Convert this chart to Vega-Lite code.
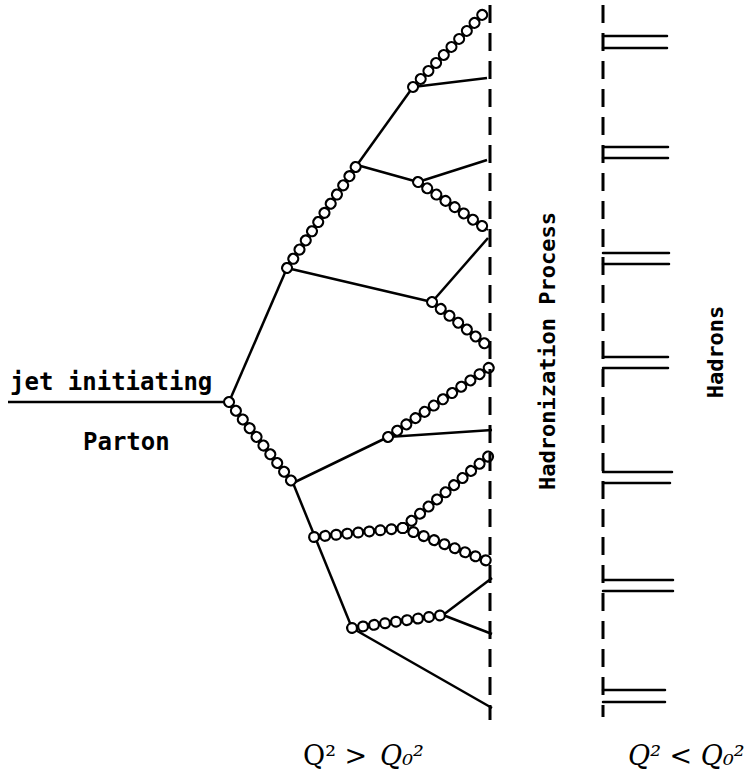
{
  "$schema": "https://vega.github.io/schema/vega-lite/v6.json",
  "autosize": {"type": "fit", "contains": "padding"},
  "width": 746,
  "height": 782,
  "padding": 0,
  "background": "white",
  "config": {"view": {"stroke": null}},
  "datasets": {
    "quarks": [
      {"x": 8, "y": 402, "x2": 229, "y2": 402},
      {"x": 229, "y": 402, "x2": 287, "y2": 268},
      {"x": 287, "y": 268, "x2": 432, "y2": 302},
      {"x": 357, "y": 165, "x2": 413, "y2": 87},
      {"x": 357, "y": 165, "x2": 418, "y2": 182},
      {"x": 413, "y": 87, "x2": 487, "y2": 78},
      {"x": 418, "y": 182, "x2": 487, "y2": 160},
      {"x": 432, "y": 302, "x2": 488, "y2": 238},
      {"x": 293, "y": 483, "x2": 388, "y2": 437},
      {"x": 388, "y": 437, "x2": 492, "y2": 430},
      {"x": 293, "y": 483, "x2": 352, "y2": 628},
      {"x": 443, "y": 615, "x2": 492, "y2": 578},
      {"x": 443, "y": 615, "x2": 492, "y2": 634},
      {"x": 352, "y": 628, "x2": 492, "y2": 708}
    ],
    "gluons": [
      {"x": 287, "y": 268, "x2": 357, "y2": 165},
      {"x": 413, "y": 87, "x2": 485, "y2": 12},
      {"x": 418, "y": 182, "x2": 488, "y2": 230},
      {"x": 432, "y": 302, "x2": 489, "y2": 347},
      {"x": 229, "y": 402, "x2": 293, "y2": 483},
      {"x": 388, "y": 437, "x2": 490, "y2": 367},
      {"x": 314, "y": 537, "x2": 403, "y2": 528},
      {"x": 403, "y": 528, "x2": 490, "y2": 455},
      {"x": 403, "y": 528, "x2": 490, "y2": 562},
      {"x": 352, "y": 628, "x2": 443, "y2": 615}
    ],
    "dashed": [
      {"x": 490, "y": 5, "x2": 490, "y2": 720},
      {"x": 603, "y": 5, "x2": 603, "y2": 717}
    ],
    "hadrons": [
      {"x": 603, "y": 36, "x2": 667, "y2": 36},
      {"x": 603, "y": 48, "x2": 667, "y2": 48},
      {"x": 603, "y": 147, "x2": 668, "y2": 147},
      {"x": 603, "y": 158, "x2": 668, "y2": 158},
      {"x": 603, "y": 253, "x2": 669, "y2": 253},
      {"x": 603, "y": 264, "x2": 669, "y2": 264},
      {"x": 603, "y": 357, "x2": 668, "y2": 357},
      {"x": 603, "y": 368, "x2": 668, "y2": 368},
      {"x": 603, "y": 472, "x2": 672, "y2": 472},
      {"x": 603, "y": 483, "x2": 670, "y2": 483},
      {"x": 603, "y": 580, "x2": 673, "y2": 580},
      {"x": 603, "y": 591, "x2": 673, "y2": 591},
      {"x": 603, "y": 690, "x2": 665, "y2": 690},
      {"x": 603, "y": 702, "x2": 665, "y2": 702}
    ],
    "labelsH": [
      {"x": 10, "y": 383, "text": "jet initiating"},
      {"x": 83, "y": 443, "text": "Parton"}
    ],
    "labelsV": [
      {"x": 548, "y": 351, "text": "Hadronization Process"},
      {"x": 716, "y": 352, "text": "Hadrons"}
    ],
    "labelsQ": [
      {"x": 303, "y": 765, "text": "Q² >"}
    ],
    "labelsQi": [
      {"x": 380, "y": 765, "text": "Q₀²"},
      {"x": 628, "y": 765, "text": "Q² < Q₀²"}
    ]
  },
  "layer": [
    {
      "data": {"name": "quarks"},
      "mark": {"type": "rule", "color": "black", "strokeWidth": 2.5},
      "encoding": {
        "x": {"field": "x", "type": "quantitative", "scale": {"domain": [0, 746]}, "axis": null},
        "y": {"field": "y", "type": "quantitative", "scale": {"domain": [0, 782], "reverse": true}, "axis": null},
        "x2": {"field": "x2"},
        "y2": {"field": "y2"}
      }
    },
    {
      "data": {"name": "gluons"},
      "mark": {"type": "rule", "color": "black", "strokeWidth": 2},
      "encoding": {
        "x": {"field": "x", "type": "quantitative", "scale": {"domain": [0, 746]}, "axis": null},
        "y": {"field": "y", "type": "quantitative", "scale": {"domain": [0, 782], "reverse": true}, "axis": null},
        "x2": {"field": "x2"},
        "y2": {"field": "y2"}
      }
    },
    {
      "data": {"name": "gluons"},
      "mark": {"type": "rule", "color": "black", "strokeWidth": 12, "strokeDash": [0.1, 11], "strokeCap": "round"},
      "encoding": {
        "x": {"field": "x", "type": "quantitative", "scale": {"domain": [0, 746]}, "axis": null},
        "y": {"field": "y", "type": "quantitative", "scale": {"domain": [0, 782], "reverse": true}, "axis": null},
        "x2": {"field": "x2"},
        "y2": {"field": "y2"}
      }
    },
    {
      "data": {"name": "gluons"},
      "mark": {"type": "rule", "color": "white", "strokeWidth": 7.5, "strokeDash": [0.1, 11], "strokeCap": "round"},
      "encoding": {
        "x": {"field": "x", "type": "quantitative", "scale": {"domain": [0, 746]}, "axis": null},
        "y": {"field": "y", "type": "quantitative", "scale": {"domain": [0, 782], "reverse": true}, "axis": null},
        "x2": {"field": "x2"},
        "y2": {"field": "y2"}
      }
    },
    {
      "data": {"name": "dashed"},
      "mark": {"type": "rule", "color": "black", "strokeWidth": 3, "strokeDash": [18, 10]},
      "encoding": {
        "x": {"field": "x", "type": "quantitative", "scale": {"domain": [0, 746]}, "axis": null},
        "y": {"field": "y", "type": "quantitative", "scale": {"domain": [0, 782], "reverse": true}, "axis": null},
        "x2": {"field": "x2"},
        "y2": {"field": "y2"}
      }
    },
    {
      "data": {"name": "hadrons"},
      "mark": {"type": "rule", "color": "black", "strokeWidth": 2.5, "strokeCap": "round"},
      "encoding": {
        "x": {"field": "x", "type": "quantitative", "scale": {"domain": [0, 746]}, "axis": null},
        "y": {"field": "y", "type": "quantitative", "scale": {"domain": [0, 782], "reverse": true}, "axis": null},
        "x2": {"field": "x2"},
        "y2": {"field": "y2"}
      }
    },
    {
      "data": {"name": "labelsH"},
      "mark": {"type": "text", "align": "left", "baseline": "middle", "font": "DejaVu Sans Mono", "fontWeight": "bold", "fontSize": 24, "color": "black"},
      "encoding": {
        "x": {"field": "x", "type": "quantitative", "scale": {"domain": [0, 746]}, "axis": null},
        "y": {"field": "y", "type": "quantitative", "scale": {"domain": [0, 782], "reverse": true}, "axis": null},
        "text": {"field": "text"}
      }
    },
    {
      "data": {"name": "labelsV"},
      "mark": {"type": "text", "align": "center", "baseline": "middle", "angle": 270, "font": "DejaVu Sans Mono", "fontWeight": "bold", "fontSize": 22, "color": "black"},
      "encoding": {
        "x": {"field": "x", "type": "quantitative", "scale": {"domain": [0, 746]}, "axis": null},
        "y": {"field": "y", "type": "quantitative", "scale": {"domain": [0, 782], "reverse": true}, "axis": null},
        "text": {"field": "text"}
      }
    },
    {
      "data": {"name": "labelsQ"},
      "mark": {"type": "text", "align": "left", "baseline": "alphabetic", "font": "DejaVu Serif", "fontSize": 27, "color": "black"},
      "encoding": {
        "x": {"field": "x", "type": "quantitative", "scale": {"domain": [0, 746]}, "axis": null},
        "y": {"field": "y", "type": "quantitative", "scale": {"domain": [0, 782], "reverse": true}, "axis": null},
        "text": {"field": "text"}
      }
    },
    {
      "data": {"name": "labelsQi"},
      "mark": {"type": "text", "align": "left", "baseline": "alphabetic", "font": "DejaVu Serif", "fontStyle": "italic", "fontSize": 27, "color": "black"},
      "encoding": {
        "x": {"field": "x", "type": "quantitative", "scale": {"domain": [0, 746]}, "axis": null},
        "y": {"field": "y", "type": "quantitative", "scale": {"domain": [0, 782], "reverse": true}, "axis": null},
        "text": {"field": "text"}
      }
    }
  ]
}
